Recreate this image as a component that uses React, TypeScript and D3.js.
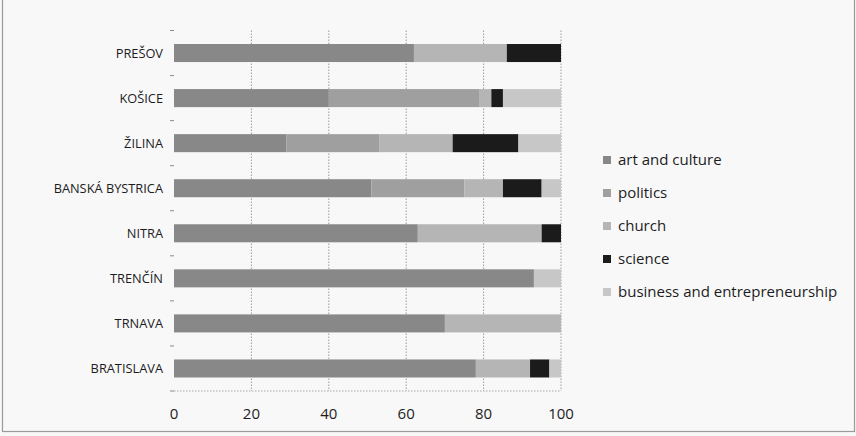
import { useEffect, useRef } from 'react';
import * as d3 from 'd3';

const CITIES = ['PREŠOV', 'KOŠICE', 'ŽILINA', 'BANSKÁ BYSTRICA', 'NITRA', 'TRENČÍN', 'TRNAVA', 'BRATISLAVA'];
const SERIES = ['art and culture', 'politics', 'church', 'science', 'business and entrepreneurship'];

// shares in %, one entry per city (same order as CITIES)
const ART = [62, 40, 29, 51, 63, 93, 70, 78];
const POLITICS = [0, 39, 24, 24, 0, 0, 0, 0];
const CHURCH = [24, 3, 19, 10, 32, 0, 30, 14];
const SCIENCE = [14, 3, 17, 10, 5, 0, 0, 5];
const BUSINESS = [0, 15, 11, 5, 0, 7, 0, 3];

const TICKS = [0, 20, 40, 60, 80, 100];
const COLORS = ['#888888', '#9f9f9f', '#b5b5b5', '#1b1b1b', '#c7c7c7'];

export default function App() {
  const svgRef = useRef<SVGSVGElement>(null);

  useEffect(() => {
    const el = svgRef.current;
    if (!el) return;
    const svg = d3.select(el);
    svg.selectAll('*').remove();

    const W = 856;
    const H = 436;
    const margin = { top: 30.5, left: 174, right: 295, bottom: 45 };

    const rows = CITIES.map((c, i) => ({
      city: c,
      values: [ART[i], POLITICS[i], CHURCH[i], SCIENCE[i], BUSINESS[i]],
    }));

    const x = d3.scaleLinear().domain([0, 100]).range([margin.left, W - margin.right]);
    const y = d3.scaleBand<string>().domain(CITIES).range([margin.top, H - margin.bottom]).paddingInner(0.6).paddingOuter(0.3);

    // background + frame
    svg.append('rect').attr('x', 0).attr('y', 0).attr('width', W).attr('height', H).attr('fill', '#f8f8f9');
    svg.append('rect')
      .attr('x', 2.5).attr('y', -3).attr('width', W - 4).attr('height', H - 1.5)
      .attr('fill', 'none').attr('stroke', '#9a9a9a').attr('stroke-width', 1.2);

    // vertical grid
    svg.append('g').selectAll('line').data(TICKS.slice(1)).join('line')
      .attr('x1', (d) => x(d)).attr('x2', (d) => x(d))
      .attr('y1', margin.top).attr('y2', H - margin.bottom)
      .attr('stroke', '#9c9c9c').attr('stroke-width', 1).attr('stroke-dasharray', '1.5,1.5');

    // bottom axis line (dotted)
    svg.append('line')
      .attr('x1', x(0)).attr('x2', x(100))
      .attr('y1', H - margin.bottom).attr('y2', H - margin.bottom)
      .attr('stroke', '#a8a8a8').attr('stroke-dasharray', '1.5,1.5');

    // left axis ticks at category boundaries
    const step = y.step();
    const bounds = d3.range(CITIES.length + 1).map((i) => margin.top + i * step);
    svg.append('g').selectAll('line').data(bounds).join('line')
      .attr('x1', x(0) - 4).attr('x2', x(0))
      .attr('y1', (d) => d).attr('y2', (d) => d)
      .attr('stroke', '#8a8a8a');

    // stacked bars
    const stack = d3.stack<{ city: string; values: number[] }, number>()
      .keys(d3.range(SERIES.length))
      .value((d, k) => d.values[k]);
    const layers = stack(rows);

    svg.append('g').selectAll('g').data(layers).join('g')
      .attr('fill', (d) => COLORS[d.key])
      .selectAll('rect').data((d) => d).join('rect')
      .attr('x', (d) => x(d[0]))
      .attr('width', (d) => x(d[1]) - x(d[0]))
      .attr('y', (d) => y(d.data.city)!)
      .attr('height', y.bandwidth());

    // category labels
    svg.append('g').selectAll('text').data(CITIES).join('text')
      .attr('x', x(0) - 11)
      .attr('y', (d) => y(d)! + y.bandwidth() / 2)
      .attr('dy', '0.35em')
      .attr('text-anchor', 'end')
      .attr('font-family', "'Open Sans', sans-serif")
      .attr('font-size', '12.8px')
      .attr('fill', '#1c1c1c')
      .text((d) => d);

    // x tick labels
    svg.append('g').selectAll('text').data(TICKS).join('text')
      .attr('x', (d) => x(d))
      .attr('y', H - margin.bottom + 23)
      .attr('dy', '0.35em')
      .attr('text-anchor', 'middle')
      .attr('font-family', "'Open Sans', sans-serif")
      .attr('font-size', '15px')
      .attr('fill', '#1c1c1c')
      .text((d) => d);

    // legend
    const legend = svg.append('g').attr('transform', 'translate(603,160)');
    const items = legend.selectAll('g').data(SERIES).join('g')
      .attr('transform', (_d, i) => `translate(0,${i * 33})`);
    items.append('rect')
      .attr('x', 0).attr('y', -4).attr('width', 8).attr('height', 8)
      .attr('fill', (_d, i) => COLORS[i]);
    items.append('text')
      .attr('x', 15).attr('y', 0).attr('dy', '0.35em')
      .attr('font-family', "'Open Sans', sans-serif")
      .attr('font-size', '15px')
      .attr('fill', '#1c1c1c')
      .text((d) => d);
  }, []);

  return (
    <svg ref={svgRef} width={856} height={436} style={{ position: 'absolute', left: 0, top: 0 }} />
  );
}
